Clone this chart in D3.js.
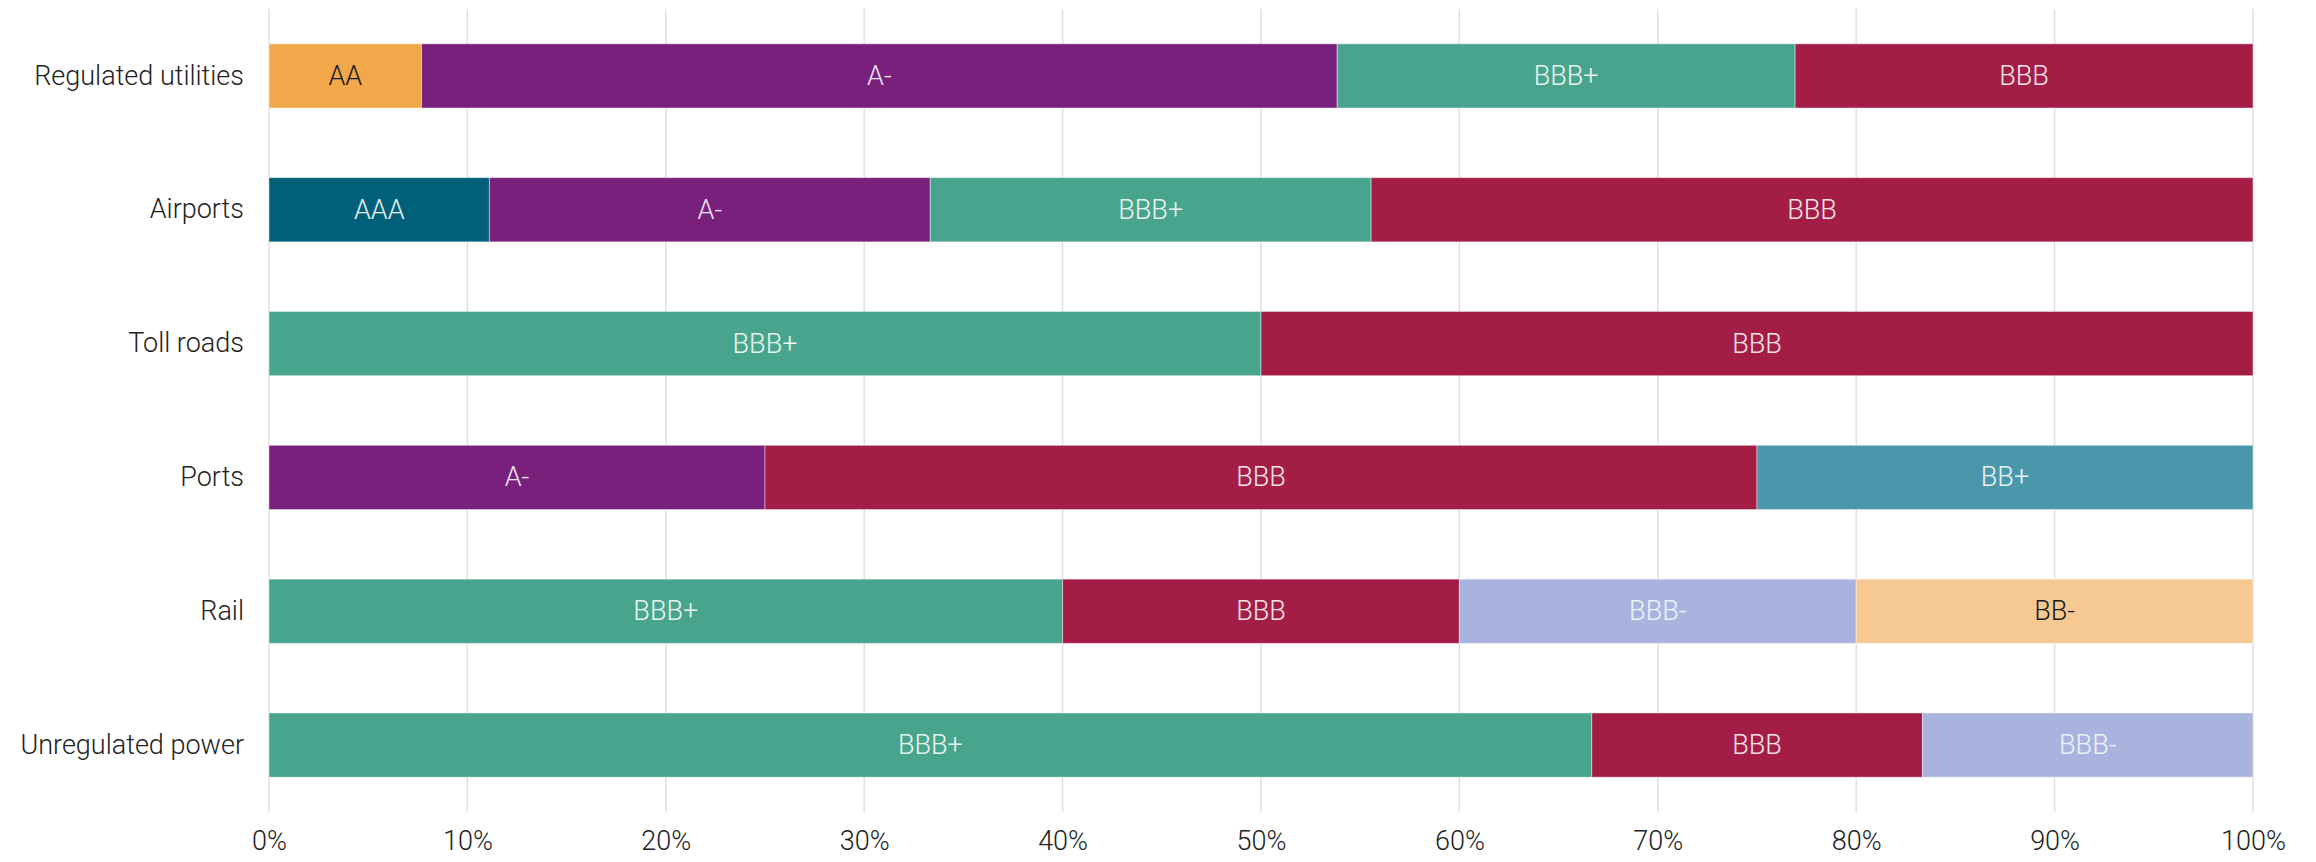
<!DOCTYPE html>
<html><head><meta charset="utf-8">
<script src="https://cdn.jsdelivr.net/npm/d3@7"></script>
<style>
html,body{margin:0;padding:0;background:#fff;}
text{font-family:Roboto,"Open Sans",sans-serif;font-weight:300;}
</style></head>
<body><svg id="chart" width="2316" height="862"></svg>
<script>
const categories = ["Regulated utilities","Airports","Toll roads","Ports","Rail","Unregulated power"];
const ratings = ["AAA","AA","A-","BBB+","BBB","BBB-","BB+","BB-"];
const ratingColors = ["#00607a","#f1a84b","#78207c","#48a48c","#a31d46","#a9b4de","#4a97ac","#f6c992"];
const ratingTextColors = ["#e6f0f3","#1a1a1a","#f0e4f0","#eaf5f1","#f6e6ea","#eef1fa","#eaf3f6","#1a1a1a"];
// share (%) of each rating per category, in the order of `ratings`
const AAA  = [0, 11.11, 0, 0, 0, 0];
const AA   = [7.69, 0, 0, 0, 0, 0];
const Aminus = [46.15, 22.22, 0, 25, 0, 0];
const BBBplus = [23.08, 22.22, 50, 0, 40, 66.67];
const BBB  = [23.08, 44.45, 50, 50, 20, 16.67];
const BBBminus = [0, 0, 0, 0, 20, 16.66];
const BBplus = [0, 0, 0, 25, 0, 0];
const BBminus = [0, 0, 0, 0, 20, 0];
const seriesValues = [AAA, AA, Aminus, BBBplus, BBB, BBBminus, BBplus, BBminus];
const tickValues = [0,10,20,30,40,50,60,70,80,90,100];

const FS = 27;
const svg = d3.select("#chart");
const margin = {left:269};
const x = d3.scaleLinear().domain([0,100]).range([margin.left, 2253]);
const y = d3.scaleBand().domain(categories).range([9, 812]).paddingInner(0.52).paddingOuter(0.26);

// grid
svg.append("g").selectAll("line").data(tickValues).join("line")
  .attr("x1", d=>x(d)).attr("x2", d=>x(d))
  .attr("y1", 9).attr("y2", 812)
  .attr("stroke", "#e1e1e1").attr("stroke-width", 1.5);

// x axis
const xAxis = d3.axisBottom(x).tickValues(tickValues).tickFormat(d=>d+"%").tickSize(0).tickPadding(0);
const gx = svg.append("g").attr("transform", "translate(0,831)").call(xAxis);
gx.select(".domain").remove();
gx.selectAll("text").attr("font-size", FS).attr("fill", "#222").attr("dy", "0.71em");

// y axis
const yAxis = d3.axisLeft(y).tickSize(0).tickPadding(25);
const gy = svg.append("g").attr("transform", `translate(${margin.left},0)`).call(yAxis);
gy.select(".domain").remove();
gy.selectAll("text").attr("font-size", FS).attr("fill", "#222");

// stacked data
const rows = categories.map((c,i)=>{
  const o = {category:c};
  ratings.forEach((r,j)=>{ o[r] = seriesValues[j][i]; });
  return o;
});
const stack = d3.stack().keys(ratings)(rows);

stack.forEach((layer, j)=>{
  const g = svg.append("g");
  const segs = layer.filter(d=> d[1]-d[0] > 0.001);
  g.selectAll("rect").data(segs).join("rect")
    .attr("x", d=>x(d[0])).attr("width", d=>x(d[1])-x(d[0]))
    .attr("y", d=>y(d.data.category)).attr("height", y.bandwidth())
    .attr("fill", ratingColors[j])
    .attr("stroke", "rgba(255,255,255,0.45)").attr("stroke-width", 1);
  g.selectAll("text").data(segs).join("text")
    .attr("x", d=>(x(d[0])+x(d[1]))/2)
    .attr("y", d=>y(d.data.category)+y.bandwidth()/2)
    .attr("text-anchor","middle").attr("dominant-baseline","central")
    .attr("font-size", FS).attr("fill", ratingTextColors[j])
    .text(ratings[j]);
});
</script></body></html>
